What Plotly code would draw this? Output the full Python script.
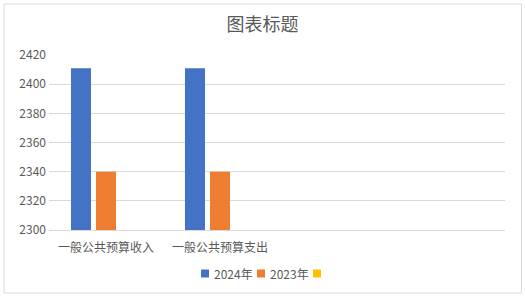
import plotly.graph_objects as go

categories = ["一般公共预算收入", "一般公共预算支出", " ", "  "]
series_names = ["2024年", "2023年", ""]
values_2024 = [2411, 2411, None, None]
values_2023 = [2340, 2340, None, None]
values_3 = [None, None, None, None]
colors = ["#4472C4", "#ED7D31", "#FFC000"]
y_ticks = [2300, 2320, 2340, 2360, 2380, 2400, 2420]

W, H = 525, 297
L, R, T, B = 49, 20, 55, 67
pw, ph = W - L - R, H - T - B

fig = go.Figure()
for name, vals, col in zip(series_names, [values_2024, values_2023, values_3], colors):
    fig.add_trace(go.Bar(x=categories, y=vals, name=name if name else " ",
                         marker=dict(color=col, line=dict(width=0))))

def px_x(p):
    return (p - L) / pw

def px_y(p):
    return (H - B - p) / ph

font_family = "Noto Sans CJK SC, Noto Sans, sans-serif"

# chart border
fig.add_shape(type="rect", xref="paper", yref="paper",
              x0=px_x(4), x1=px_x(521.5), y0=px_y(293), y1=px_y(4),
              line=dict(color="#D9D9D9", width=1), fillcolor="rgba(0,0,0,0)", layer="below")

# custom legend (Excel style)
legend_sq_x = [201, 257, 313]
leg_y = 273.5
for sx, name, col in zip(legend_sq_x, series_names, colors):
    fig.add_shape(type="rect", xref="paper", yref="paper",
                  x0=px_x(sx), x1=px_x(sx + 8), y0=px_y(leg_y + 4), y1=px_y(leg_y - 4),
                  line=dict(width=0), fillcolor=col)
    if name:
        fig.add_annotation(xref="paper", yref="paper", x=px_x(sx + 11), y=px_y(leg_y),
                           text=name, showarrow=False, xanchor="left", yanchor="middle",
                           font=dict(family=font_family, size=12, color="#595959"))

fig.update_layout(
    width=W, height=H,
    margin=dict(l=L, r=R, t=T, b=B),
    paper_bgcolor="white", plot_bgcolor="white",
    barmode="group", bargap=0.342, bargroupgap=0.2,
    title=dict(text="图表标题", x=0.5, xanchor="center", y=1 - 25 / H, yanchor="middle",
               font=dict(family=font_family, size=18, color="#595959")),
    font=dict(family=font_family, size=12, color="#595959"),
    showlegend=False,
    xaxis=dict(showgrid=False, showline=True, linecolor="#D9D9D9", linewidth=1,
               ticks="", ticklabelstandoff=7, tickfont=dict(size=12, color="#595959")),
    yaxis=dict(range=[2300, 2420], tickvals=y_ticks, showgrid=True, gridcolor="#D9D9D9",
               gridwidth=1, zeroline=False, showline=False, ticks="", ticklabelstandoff=2,
               tickfont=dict(size=12, color="#595959")),
)

fig.write_html("out.html")
